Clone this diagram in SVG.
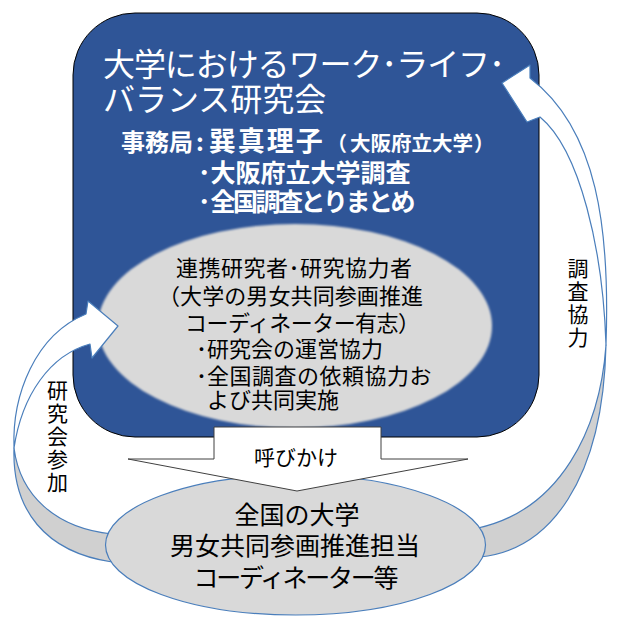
<svg xmlns="http://www.w3.org/2000/svg" width="620" height="632" viewBox="0 0 620 632">
<defs>
<style>
.t{font-family:"Noto Sans CJK JP","Noto Sans",sans-serif;}
.w{fill:#FFFFFF;}
.k{fill:#000000;}
.b{font-weight:bold;}
.v{writing-mode:vertical-rl;text-orientation:upright;letter-spacing:2px;}
.arrow{fill:#FFFFFF;stroke:#4A7EBB;stroke-width:1.2;stroke-linejoin:round;}
.back{fill:#D0D0D0;stroke:#4A7EBB;stroke-width:1.2;stroke-linejoin:round;}
</style>
<filter id="soft" x="-5%" y="-5%" width="110%" height="110%"><feGaussianBlur stdDeviation="1.3"/></filter>
</defs>
<rect width="620" height="632" fill="#FFFFFF"/>

<g id="node-main">
<rect x="73" y="13" width="466" height="424" rx="62" ry="62" fill="#2F5597" stroke="#000000" stroke-width="1"/>
<text class="t w" x="103" y="76" font-size="32" textLength="402" lengthAdjust="spacing">大学におけるワーク･ライフ･</text>
<text class="t w" x="103" y="111" font-size="32">バランス研究会</text>
<text class="t w b" x="121" y="151"><tspan font-size="24">事務局</tspan><tspan font-size="24" dx="3">:</tspan><tspan font-size="27" dx="5" style="letter-spacing:2px">巽真理子</tspan><tspan font-size="20" x="327">（</tspan><tspan font-size="20.5" x="350">大阪府立大学</tspan><tspan font-size="20" x="474">）</tspan></text>
<text class="t w b" x="198" y="182" font-size="25">･大阪府立大学調査</text>
<text class="t w b" x="198" y="211" font-size="25">･<tspan style="letter-spacing:-2.5px">全国調査とりまとめ</tspan></text>
</g>

<g id="node-inner">
<ellipse cx="295" cy="326" rx="197" ry="102" fill="#D9D9D9" filter="url(#soft)"/>
<text class="t k" x="176" y="276" font-size="22" textLength="236" lengthAdjust="spacing">連携研究者･研究協力者</text>
<text class="t k" x="158" y="304" font-size="22" textLength="265" lengthAdjust="spacing">（大学の男女共同参画推進</text>
<text class="t k" x="185" y="331" font-size="22" textLength="235" lengthAdjust="spacing">コーディネーター有志）</text>
<text class="t k" x="196" y="357" font-size="22">･研究会の運営協力</text>
<text class="t k" x="196" y="384" font-size="22">･<tspan style="letter-spacing:0.5px">全国調査の依頼協力お</tspan></text>
<text class="t k" x="207" y="408" font-size="22">よび共同実施</text>
</g>

<g id="connectors">
<g id="arrow-left">
<path class="back" d="M14,448 C20,495 55,528 112,534 L112,562 C45,552 12,510 14,448 Z"/>
<path class="arrow" d="M14,448 C12,395 35,335 86,314 L88,301 L118,326 L92,358 L90,344 C50,355 22,395 14,448 Z"/>
<text class="t k v" x="57.5" y="380" font-size="21">研究会参加</text>
</g>
<g id="arrow-right">
<path class="back" d="M606,345 C600,430 560,510 478,528 L480,557 C550,550 603,480 606,345 Z"/>
<path class="arrow" d="M606,345 C610,230 598,130 530,78 L530,65 L502,83 L527,122 L540,117 C580,150 603,250 606,345 Z"/>
<text class="t k v" x="578" y="258" font-size="21">調査協力</text>
</g>
</g>

<g id="node-bottom">
<ellipse cx="295.5" cy="545" rx="190" ry="70" fill="#D9D9D9" stroke="#4A7EBB" stroke-width="1.2"/>
<text class="t k" x="297" y="524" font-size="25" text-anchor="middle">全国の大学</text>
<text class="t k" x="295" y="555" font-size="25" text-anchor="middle">男女共同参画推進担当</text>
<text class="t k" x="296" y="587" font-size="25" text-anchor="middle" textLength="205" lengthAdjust="spacing">コーディネーター等</text>
</g>

<g id="connector-callout">
<path d="M214,427 L381,427 L381,459 L468,459 L297,491 L128,459 L214,459 Z" fill="#FFFFFF" stroke="#404040" stroke-width="1"/>
<text class="t k" x="254" y="465" font-size="21">呼びかけ</text>
</g>
</svg>
